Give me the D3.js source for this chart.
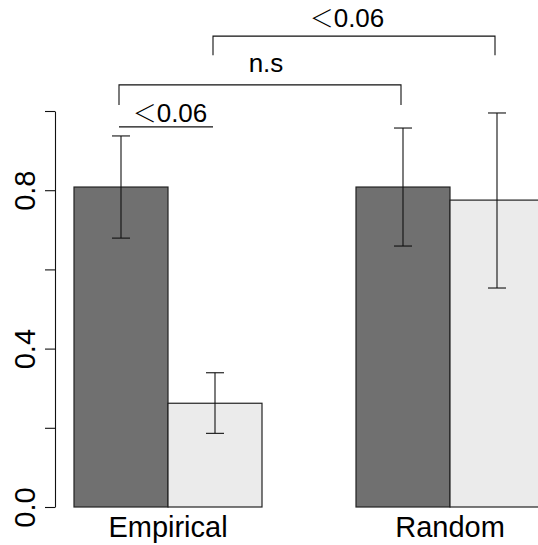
<!DOCTYPE html>
<html>
<head>
<meta charset="utf-8">
<script src="https://cdn.jsdelivr.net/npm/d3@7"></script>
<style>
  body { margin: 0; background: #fff; }
  text { font-family: "Liberation Sans", Arial, sans-serif; fill: #000; }
</style>
</head>
<body>
<svg id="chart" width="538" height="545"></svg>
<script>
// data
const groups = ["Empirical", "Random"];
const series = ["observed", "shuffled"];
const observed = [0.808, 0.808];
const shuffled = [0.262, 0.775];
const observedLo = [0.679, 0.659];
const observedHi = [0.937, 0.957];
const shuffledLo = [0.186, 0.553];
const shuffledHi = [0.339, 0.995];
const yTicks = [0, 0.2, 0.4, 0.6, 0.8, 1.0];
const yLabels = ["0.0", "", "0.4", "", "0.8", ""];

// significance brackets: [group, series] pairs, bar level, leg bottom, text
const brackets = [
  { from: [0, 1], to: [1, 1], top: 1.189, leg: 1.141, label: "0.06", lt: true },
  { from: [0, 0], to: [1, 0], top: 1.066, leg: 1.015, label: "n.s", lt: false },
  { from: [0, 0], to: [0, 1], top: 0.960, leg: 0.960, label: "0.06", lt: true }
];

const svg = d3.select("#chart");

const y = d3.scaleLinear().domain([0, 1]).range([507, 111]);

// groups are two bars wide with one bar width of space between
const x0 = d3.scaleBand().domain(groups).range([74, 544]).paddingInner(1 / 3).paddingOuter(0);
const x1 = d3.scaleBand().domain(series).range([0, x0.bandwidth()]);

const rows = groups.map((g, i) => [
  { g, s: "observed", v: observed[i], lo: observedLo[i], hi: observedHi[i] },
  { g, s: "shuffled", v: shuffled[i], lo: shuffledLo[i], hi: shuffledHi[i] }
]).flat();

const fill = { observed: "#707070", shuffled: "#ebebeb" };
const cx = d => x0(d.g) + x1(d.s) + x1.bandwidth() / 2;

// bars
svg.append("g").selectAll("rect")
  .data(rows)
  .enter().append("rect")
    .attr("x", d => x0(d.g) + x1(d.s))
    .attr("y", d => y(d.v))
    .attr("width", x1.bandwidth())
    .attr("height", d => y(0) - y(d.v))
    .attr("fill", d => fill[d.s])
    .attr("stroke", "#222")
    .attr("stroke-width", 1.2);

// error bars
const err = svg.append("g").attr("stroke", "#111").attr("stroke-width", 1.1);
rows.forEach(d => {
  const c = cx(d);
  err.append("line").attr("x1", c).attr("x2", c).attr("y1", y(d.lo)).attr("y2", y(d.hi));
  err.append("line").attr("x1", c - 9).attr("x2", c + 9).attr("y1", y(d.lo)).attr("y2", y(d.lo));
  err.append("line").attr("x1", c - 9).attr("x2", c + 9).attr("y1", y(d.hi)).attr("y2", y(d.hi));
});

// y axis
const yAxis = svg.append("g")
  .attr("transform", "translate(55,0)")
  .call(d3.axisLeft(y).tickValues(yTicks).tickSize(10).tickSizeOuter(0)
    .tickFormat((d, i) => yLabels[i]));
yAxis.select(".domain").attr("stroke", "#111").attr("stroke-width", 1.1);
yAxis.selectAll(".tick line").attr("stroke", "#111").attr("stroke-width", 1.1);
yAxis.selectAll(".tick text")
  .attr("transform", "rotate(-90)")
  .attr("x", 0).attr("y", -20).attr("dy", 0)
  .attr("text-anchor", "middle")
  .style("font-size", "29px")
  .style("font-family", "Liberation Sans, Arial, sans-serif");

// group labels
svg.append("g").selectAll("text")
  .data(groups)
  .enter().append("text")
    .attr("x", d => x0(d) + x0.bandwidth() / 2)
    .attr("y", 537)
    .attr("text-anchor", "middle")
    .style("font-size", "29px")
    .text(d => d);

// brackets
const bx = (p) => x0(groups[p[0]]) + x1(series[p[1]]) + x1.bandwidth() / 2 - 2;
const br = svg.append("g");
brackets.forEach((b, i) => {
  const xa = bx(b.from), xb = bx(b.to);
  const p = d3.path();
  p.moveTo(xa, y(b.leg));
  p.lineTo(xa, y(b.top));
  p.lineTo(xb, y(b.top));
  p.lineTo(xb, y(b.leg));
  br.append("path").attr("d", p.toString())
    .attr("fill", "none").attr("stroke", "#111").attr("stroke-width", 1.1);
  const t = br.append("text")
    .attr("x", (xa + xb) / 2 + [-7, 6, 4][i])
    .attr("y", y(b.top) - [9, 13, 5][i])
    .attr("text-anchor", "middle")
    .style("font-size", "26px");
  if (b.lt) t.append("tspan").style("font-family", "Noto Sans CJK JP").style("font-weight", 300)
    .style("font-size", "24px").text("\uFF1C");
  t.append("tspan").text(b.label);
});
</script>
</body>
</html>
